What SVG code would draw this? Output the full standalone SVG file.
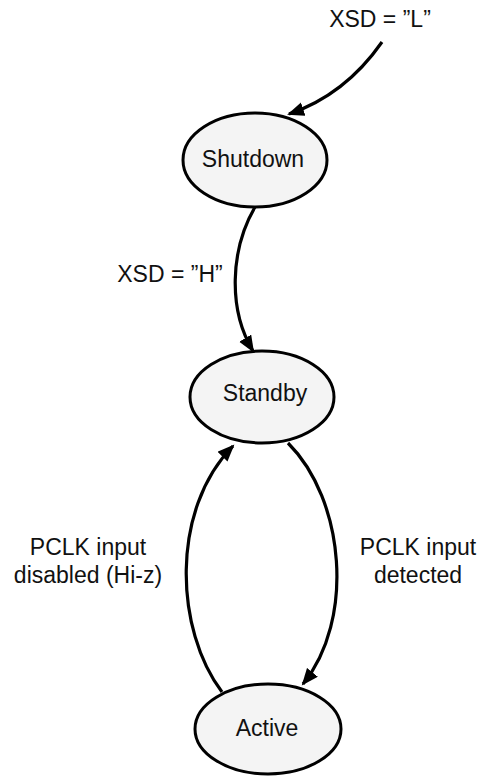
<svg xmlns="http://www.w3.org/2000/svg" width="480" height="776" viewBox="0 0 480 776">
  <style>
    .node { fill: #f4f4f4; stroke: #000; stroke-width: 3; }
    .lbl { font-family: "Liberation Sans", Arial, sans-serif; font-size: 23px; fill: #111; text-anchor: middle; }
    .edge { fill: none; stroke: #000; stroke-width: 3.2; marker-end: url(#arrow); }
  </style>
  <defs>
    <marker id="arrow" markerUnits="userSpaceOnUse" markerWidth="18" markerHeight="15" refX="15" refY="7" orient="auto">
      <path d="M0,0 L17,7 L0,14 z" fill="#000"/>
    </marker>
  </defs>
  <rect width="480" height="776" fill="#fff"/>
  <g id="connectors">
    <path class="edge" d="M382,42 Q345,95 289,114"/>
    <text class="lbl" x="380" y="27">XSD = ”L”</text>
    <path class="edge" d="M255,207 C230,250 228,310 253,351"/>
    <text class="lbl" x="170" y="282">XSD = ”H”</text>
    <path class="edge" d="M288,443 C345,500 355,620 303,684"/>
    <text class="lbl" x="418" y="555">PCLK input</text>
    <text class="lbl" x="418" y="583">detected</text>
    <path class="edge" d="M222,692 C175,630 170,510 233,446"/>
    <text class="lbl" x="88" y="555">PCLK input</text>
    <text class="lbl" x="88" y="583">disabled (Hi-z)</text>
  </g>
  <g id="shutdown">
    <ellipse class="node" cx="255" cy="160" rx="72" ry="47"/>
    <text class="lbl" x="253" y="167">Shutdown</text>
  </g>
  <g id="standby">
    <ellipse class="node" cx="262" cy="397" rx="72" ry="46"/>
    <text class="lbl" x="265" y="401">Standby</text>
  </g>
  <g id="active">
    <ellipse class="node" cx="268" cy="729" rx="73" ry="45"/>
    <text class="lbl" x="267" y="736">Active</text>
  </g>
</svg>
